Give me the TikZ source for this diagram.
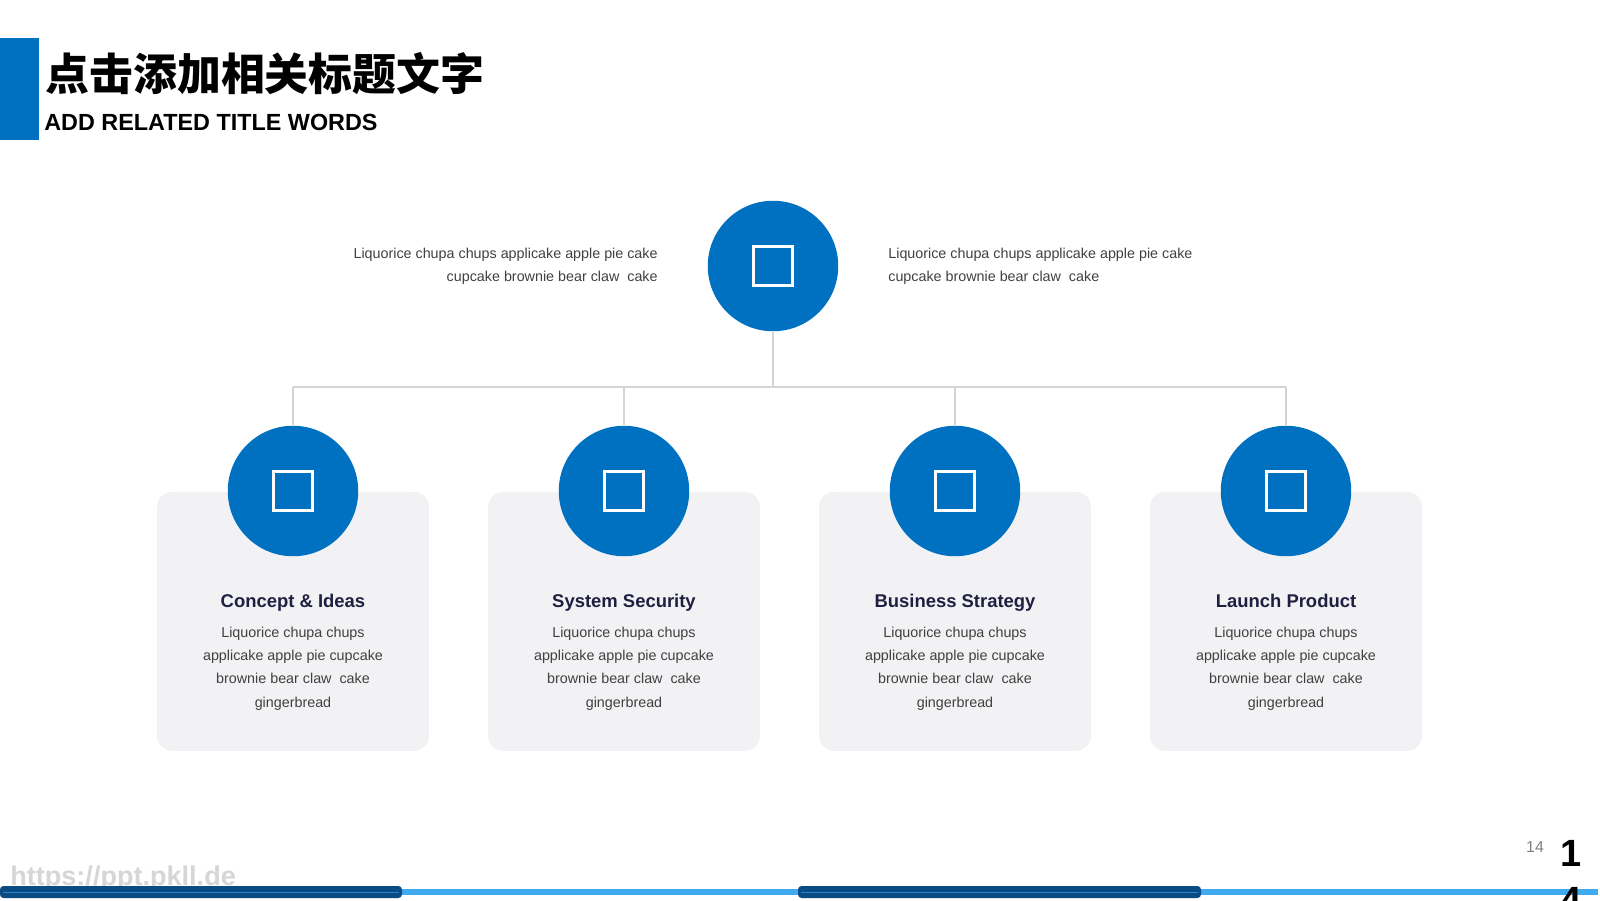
\documentclass[tikz,border=0pt]{standalone}
\usepackage{fontspec}
\setmainfont{Liberation Sans}
\newfontfamily\cjkfont{Noto Sans CJK SC}
\usepackage{tikz}
\usetikzlibrary{positioning}
\definecolor{mainblue}{RGB}{0,112,192}
\definecolor{cardgray}{RGB}{242,242,244}
\definecolor{linegray}{RGB}{212,212,212}
\definecolor{navytext}{RGB}{31,32,65}
\definecolor{bodytext}{RGB}{64,64,64}
\definecolor{bardark}{RGB}{10,75,132}
\definecolor{barlight}{RGB}{64,170,240}
\definecolor{urlgray}{RGB}{214,214,214}

\begin{document}
\begin{tikzpicture}[
		x=0.02cm,y=-0.02cm,
		BlueCircle/.style={circle,fill=mainblue,minimum size=2.61cm,inner sep=0pt},
		IconBox/.style={draw=white,line width=2pt,minimum size=0.78cm,inner sep=0pt},
		CardBox/.style={fill=cardgray,rounded corners=0.3cm,minimum width=5.44cm,minimum height=5.18cm,inner sep=0pt},
		Connector/.style={draw=linegray,line width=1.2pt},
		CardTitle/.style={font=\bfseries\fontsize{10.5}{12}\selectfont,text=navytext,inner sep=0pt,anchor=base},
		BodyText/.style={font=\fontsize{8.15}{13.2}\selectfont,text=bodytext,inner sep=0pt}
		]
		\useasboundingbox (0,0) rectangle (1600,900);
		
		% title block
		\fill[mainblue] (0,38) rectangle (39,140);
		\node[anchor=base west,inner sep=0pt,font=\cjkfont\bfseries\fontsize{25}{28}\selectfont] (titlecn) at (45,90) {点击添加相关标题文字};
		\node[anchor=base west,inner sep=0pt,font=\bfseries\fontsize{13.3}{15}\selectfont] (titleen) at (44,130.6) {ADD RELATED TITLE WORDS};
		
		% hub
		\node[BlueCircle] (hub) at (773,266) {};
		\node[IconBox] (hubicon) at (hub.center) {};
		\node[BodyText,anchor=east,align=right] (hubleft) at (658,266) {Liquorice chupa chups applicake apple pie cake\\cupcake brownie bear claw~ cake};
		\node[BodyText,anchor=west,align=left] (hubright) at (888,266) {Liquorice chupa chups applicake apple pie cake\\cupcake brownie bear claw~ cake};
		
		\coordinate (bus) at (773,387);
		\draw[Connector] (hub) -- (bus);
		
		% cards
		\foreach \x/\title [count=\i] in {293/Concept \& Ideas,624/System Security,955/Business Strategy,1286/Launch Product}{
			\coordinate (bus\i) at (\x,387);
			\node[CardBox] (card\i) at (\x,621.4) {};
			\node[BlueCircle] (circ\i) at (\x,491) {};
			\node[IconBox] (icon\i) at (circ\i.center) {};
			\node[CardTitle] (title\i) at (\x,607) {\title};
			\node[BodyText,align=center] (body\i) at (\x,668.5) {Liquorice chupa chups\\applicake apple pie cupcake\\brownie bear claw~ cake\\gingerbread};
		}
		\draw[Connector] (bus1) -- (bus4);
		\foreach \i in {1,...,4}{
			\draw[Connector] (bus\i) -- (circ\i);
		}
		
		% footer
		\node[anchor=base west,inner sep=0pt,text=urlgray,font=\bfseries\fontsize{15.4}{17}\selectfont] (weburl) at (10,885) {https://ppt.pkll.de};
		\fill[barlight] (0,889) rectangle (1598,895);
		\fill[bardark,rounded corners=2pt] (0,886) rectangle (402,898);
		\fill[bardark,rounded corners=2pt] (798,886) rectangle (1201,898);
		\draw[barlight!60!bardark,line width=0.4pt] (3,892) -- (399,892);
		\draw[barlight!60!bardark,line width=0.4pt] (801,892) -- (1198,892);
		\node[inner sep=0pt,text=black!50,font=\fontsize{9}{10}\selectfont] (pagesmall) at (1535,847) {14};
		\node[anchor=north,inner sep=0pt,align=center,font=\bfseries\fontsize{21.6}{27}\selectfont] (pagebig) at (1571,840) {1\\4};
		
		\end{tikzpicture}
\end{document}
